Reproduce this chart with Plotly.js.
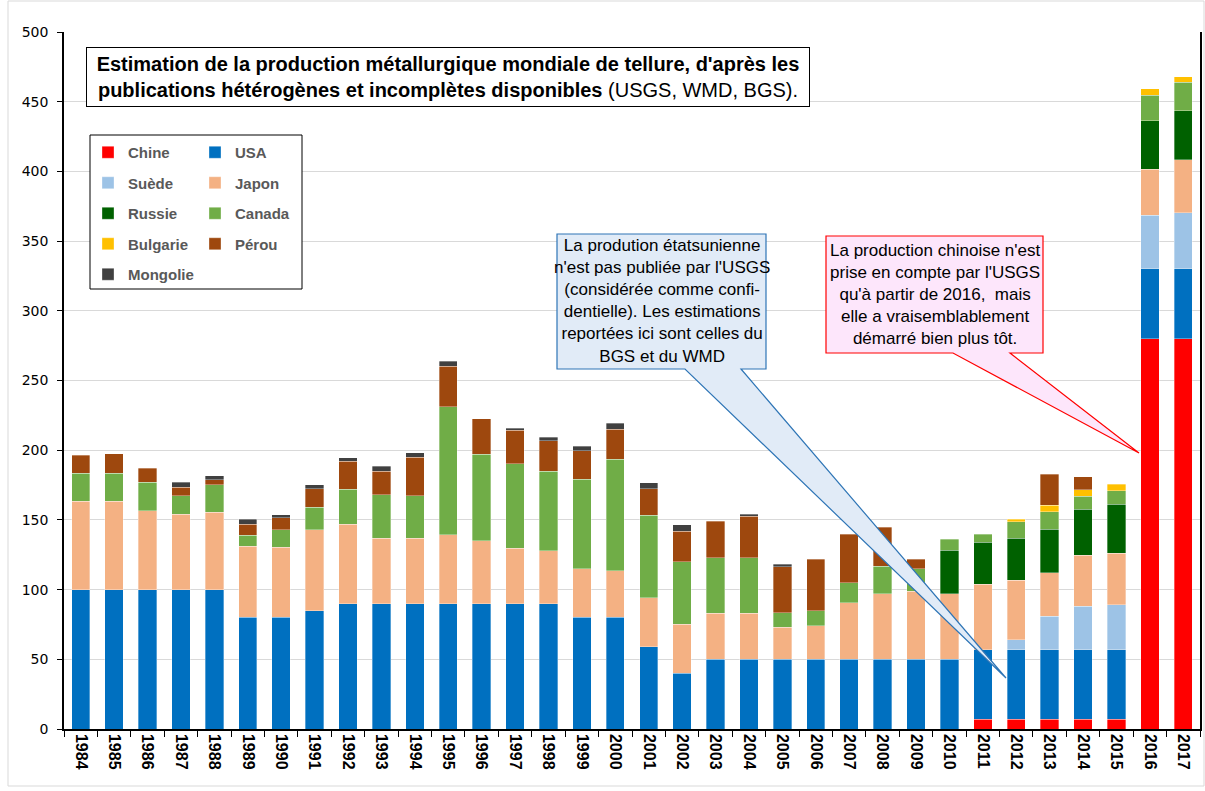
<!DOCTYPE html>
<html><head><meta charset="utf-8">
<script src="https://cdn.plot.ly/plotly-3.0.1.min.js"></script>
<style>html,body{margin:0;padding:0;background:#fff}#chart{width:1205px;height:791px}</style>
</head><body><div id="chart"></div>
<script>
const years = ["1984","1985","1986","1987","1988","1989","1990","1991","1992","1993","1994","1995","1996","1997","1998","1999","2000","2001","2002","2003","2004","2005","2006","2007","2008","2009","2010","2011","2012","2013","2014","2015","2016","2017"];
const chine    = [null,null,null,null,null,null,null,null,null,null,null,null,null,null,null,null,null,null,null,null,null,null,null,null,null,null,null,7,7,7,7,7,280,280];
const usa      = [100,100,100,100,100,80,80,85,90,90,90,90,90,90,90,80,80,59,40,50,50,50,50,50,50,50,50,50,50,50,50,50,50,50];
const suede    = [null,null,null,null,null,null,null,null,null,null,null,null,null,null,null,null,null,null,null,null,null,null,null,null,null,null,null,null,7,24,31,32,38.5,40.5];
const japon    = [63.5,63.5,56.5,54,55.5,51,50.5,58,57,47,47,49.5,45,39.7,38,35,33.6,35,35,33,33,23,24,40.7,47,48.8,47,47,42.7,31.2,36.7,37.2,33,38];
const russie   = [null,null,null,null,null,null,null,null,null,null,null,null,null,null,null,null,null,null,null,null,null,null,null,null,null,null,31.3,30,30.2,31.2,32.9,35,35,35];
const canada   = [20,20,20.4,13.5,19.7,8,12.5,16,25,31,30.4,91.6,62,60.5,57,64,80,59.5,45,40,40,10.5,10.8,14.3,19.6,16.3,8,5.7,11.8,12.4,9.5,9.6,18,20.5];
const bulgarie = [null,null,null,null,null,null,null,null,null,null,null,null,null,null,null,null,null,null,null,null,null,null,null,null,null,null,null,null,1.7,4.6,4.6,4.6,4.8,3.8];
const perou    = [13,14,10,6,3.6,8,8.4,13.5,20,17,27.5,29.2,25.5,24,21.7,20.6,21.3,19,22,26,29.5,33,37,34.7,28.2,6.7,null,null,null,22.3,9.1,null,null,null];
const mongolie = [null,null,null,3.6,2.7,3.6,2.4,2.6,2.7,3.4,3.4,3.6,null,1.7,2.7,3.3,4.3,4.3,4.5,null,1.6,1.7,null,null,null,null,null,null,null,null,null,null,null,null];

const seriesNames = ["Chine","USA","Suède","Japon","Russie","Canada","Bulgarie","Pérou","Mongolie"];
const seriesData = [chine,usa,suede,japon,russie,canada,bulgarie,perou,mongolie];
const seriesColors = ["#ff0000","#0070c0","#9dc3e6","#f4b183","#006100","#70ad47","#ffc000","#9e480e","#404040"];
const seriesLegend = ["legend","legend2","legend","legend2","legend","legend2","legend","legend2","legend"];

const titleLine1 = "Estimation de la production métallurgique mondiale de tellure, d'après les";
const titleLine2b = "publications hétérogènes et incomplètes disponibles";
const titleLine2r = " (USGS, WMD, BGS).";
const noteUSA = ["La prodution étatsunienne","n'est pas publiée par l'USGS","(considérée comme confi-","dentielle). Les estimations","reportées ici sont celles du","BGS et du WMD"];
const noteChine = ["La production chinoise n'est","prise en compte par l'USGS","qu'à partir de 2016,  mais","elle a vraisemblablement","démarré bien plus tôt."];

// pixel helpers for decorations (plot area 64..1200 x 32..729)
const L=64,R=1200,T=32,B=729;
const px = x => (x-L)/(R-L);
const py = y => (B-y)/(B-T);

const traces = seriesNames.map((n,i)=>({
  type:'bar', name:n, x:years, y:seriesData[i],
  marker:{color:seriesColors[i], line:{color:'rgba(255,255,255,0.55)', width:0.6}},
  legend:seriesLegend[i], legendgroup:'g'+i, hoverinfo:'x+y+name'
}));

function callout(x0,y0,x1,y1,t0,t1,tx,ty){
  return `M${px(x0)},${py(y0)} L${px(x1)},${py(y0)} L${px(x1)},${py(y1)} L${px(t1)},${py(y1)} L${px(tx)},${py(ty)} L${px(t0)},${py(y1)} L${px(x0)},${py(y1)} Z`;
}

const legFont = {family:'Liberation Sans, Arial, sans-serif', size:15, color:'#595959', weight:700};
const calloutFont = {family:'Liberation Sans, Arial, sans-serif', size:17, color:'#000'};

const layout = {
  width:1205, height:791,
  margin:{l:L, r:1205-R, t:T, b:791-B, pad:0},
  paper_bgcolor:'#fff', plot_bgcolor:'#fff',
  barmode:'stack', bargap:0.45,
  xaxis:{type:'category', tickangle:90, ticks:'outside', tickson:'boundaries', ticklen:6, tickcolor:'#000',
    showline:true, linecolor:'#000', linewidth:1.5, showgrid:false,
    tickfont:{family:'Liberation Sans, Arial, sans-serif', size:16, color:'#000', weight:700}},
  yaxis:{range:[0,500], dtick:50, ticks:'outside', ticklen:5, tickcolor:'#000', ticklabelstandoff:6,
    showline:true, linecolor:'#000', linewidth:1.5, mirror:true, gridcolor:'#d9d9d9', gridwidth:1, zeroline:false,
    tickfont:{family:'DejaVu Sans, Verdana, sans-serif', size:14, color:'#000'}},
  legend:{x:px(88), y:py(136), xanchor:'left', yanchor:'top', traceorder:'grouped', tracegroupgap:8,
    font:legFont, bgcolor:'rgba(0,0,0,0)', borderwidth:0, itemclick:false, itemdoubleclick:false},
  legend2:{x:px(195), y:py(136), xanchor:'left', yanchor:'top', traceorder:'grouped', tracegroupgap:8,
    font:legFont, bgcolor:'rgba(0,0,0,0)', borderwidth:0, itemclick:false, itemdoubleclick:false},
  shapes:[
    {type:'rect', xref:'paper', yref:'paper', x0:px(8), x1:px(1204), y0:py(1), y1:py(786), line:{color:'#d9d9d9', width:1}, layer:'below'},
    {type:'rect', xref:'paper', yref:'paper', x0:px(90), x1:px(302), y0:py(135), y1:py(289), line:{color:'#000', width:1}, fillcolor:'#fff'},
    {type:'path', xref:'paper', yref:'paper', path:callout(557,234,766,369,685,741,1006,678), line:{color:'#2e75b6', width:1.2}, fillcolor:'#e1ebf7'},
    {type:'path', xref:'paper', yref:'paper', path:callout(826,236,1043,353,953,1010,1139,453), line:{color:'#ff0000', width:1.2}, fillcolor:'#fde6fb'}
  ],
  annotations:[
    {xref:'paper', yref:'paper', x:px(448), y:py(77), xanchor:'center', yanchor:'middle', showarrow:false,
     width:718, height:54, borderpad:2, bordercolor:'#000', borderwidth:1, bgcolor:'#fff', align:'center',
     text:'<b>'+titleLine1+'</b><br><b>'+titleLine2b+'</b>'+titleLine2r,
     font:{family:'Liberation Sans, Arial, sans-serif', size:20, color:'#000'}},
    {xref:'paper', yref:'paper', x:px(661.5), y:py(301), xanchor:'center', yanchor:'middle', showarrow:false,
     align:'center', text:noteUSA.join('<br>'), font:calloutFont},
    {xref:'paper', yref:'paper', x:px(934.5), y:py(294), xanchor:'center', yanchor:'middle', showarrow:false,
     align:'center', text:noteChine.join('<br>'), font:calloutFont}
  ],
  showlegend:true
};

Plotly.newPlot('chart', traces, layout, {displayModeBar:false, staticPlot:false});
</script></body></html>
